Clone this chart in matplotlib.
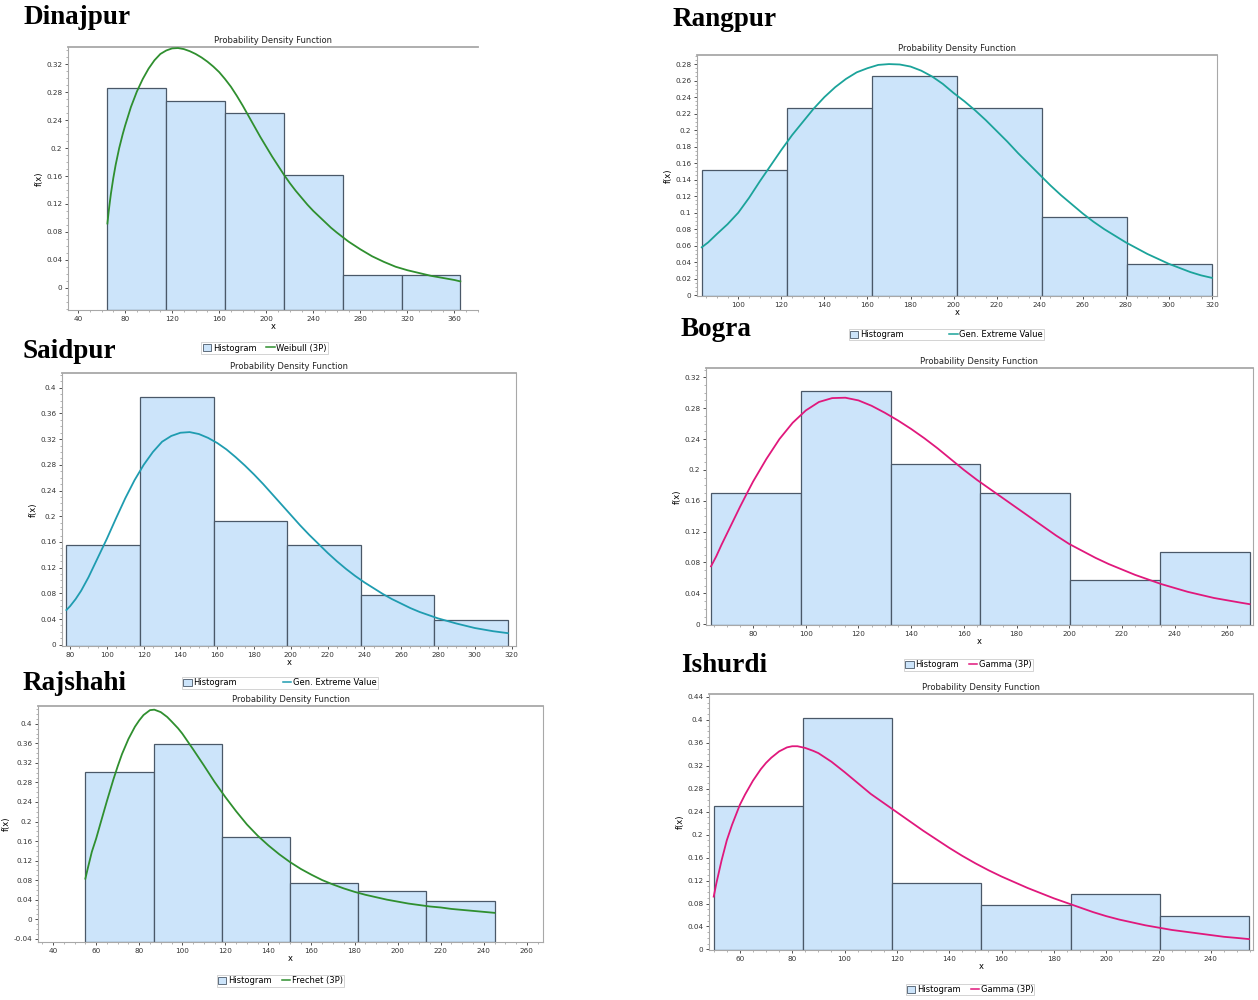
import numpy as np
import matplotlib.pyplot as plt
from matplotlib.ticker import MultipleLocator, AutoMinorLocator, FuncFormatter
from matplotlib.patches import Patch
from matplotlib.lines import Line2D

# ---- data ----
# Dinajpur (Weibull 3P)
din_edges = [65, 115, 165, 215, 265, 315, 365]
din_hist = [0.286, 0.2675, 0.250, 0.161, 0.0177, 0.0177]
din_cx = [65, 66, 67, 68, 70, 72, 75, 78, 80, 85, 90, 95, 100, 105, 110, 115, 120, 125, 130, 135,
          140, 145, 150, 155, 160, 165, 170, 175, 180, 185, 190, 195, 200, 205, 210, 215, 220,
          225, 230, 235, 240, 245, 250, 255, 260, 270, 280, 290, 300, 310, 320, 330, 340, 350,
          360, 365]
din_cy = [0.092, 0.108, 0.122, 0.135, 0.157, 0.176, 0.200, 0.220, 0.232, 0.259, 0.281, 0.299,
          0.314, 0.326, 0.335, 0.340, 0.343, 0.3435, 0.342, 0.339, 0.335, 0.330, 0.324, 0.317,
          0.309, 0.299, 0.288, 0.275, 0.261, 0.246, 0.231, 0.216, 0.202, 0.188, 0.175, 0.162,
          0.150, 0.139, 0.129, 0.119, 0.110, 0.102, 0.094, 0.086, 0.079, 0.066, 0.055, 0.045,
          0.037, 0.030, 0.025, 0.021, 0.017, 0.014, 0.011, 0.009]

# Rangpur (Gen. Extreme Value)
ran_edges = [83, 122.5, 162, 201.5, 241, 280.5, 320]
ran_hist = [0.152, 0.227, 0.265, 0.227, 0.0948, 0.0375]
ran_cx = [83, 86, 90, 95, 100, 105, 110, 115, 120, 125, 130, 135, 140, 145, 150, 155, 160, 165,
          170, 175, 180, 185, 190, 195, 200, 205, 210, 215, 220, 225, 230, 235, 240, 245, 250,
          255, 260, 265, 270, 275, 280, 285, 290, 295, 300, 305, 310, 315, 320]
ran_cy = [0.058, 0.064, 0.074, 0.086, 0.100, 0.118, 0.138, 0.157, 0.176, 0.194, 0.210, 0.226,
          0.240, 0.252, 0.262, 0.270, 0.275, 0.279, 0.280, 0.2795, 0.277, 0.272, 0.265, 0.256,
          0.245, 0.235, 0.224, 0.212, 0.199, 0.186, 0.172, 0.159, 0.146, 0.133, 0.121, 0.110,
          0.099, 0.089, 0.080, 0.072, 0.064, 0.057, 0.050, 0.044, 0.038, 0.033, 0.028, 0.024,
          0.021]

# Saidpur (Gen. Extreme Value)
sai_edges = [78, 118, 158, 198, 238, 278, 318]
sai_hist = [0.1547, 0.385, 0.193, 0.1547, 0.077, 0.039]
sai_cx = [78, 80, 83, 86, 90, 95, 100, 105, 110, 115, 120, 125, 130, 135, 140, 145, 150, 155,
          160, 165, 170, 175, 180, 185, 190, 195, 200, 205, 210, 215, 220, 225, 230, 235, 240,
          245, 250, 255, 260, 265, 270, 275, 280, 290, 300, 310, 318]
sai_cy = [0.054, 0.060, 0.071, 0.084, 0.105, 0.135, 0.165, 0.197, 0.228, 0.256, 0.280, 0.300,
          0.316, 0.325, 0.330, 0.331, 0.328, 0.322, 0.314, 0.304, 0.292, 0.279, 0.265, 0.250,
          0.234, 0.218, 0.202, 0.186, 0.171, 0.157, 0.143, 0.130, 0.118, 0.107, 0.097, 0.088,
          0.079, 0.071, 0.064, 0.057, 0.051, 0.046, 0.041, 0.033, 0.026, 0.021, 0.018]

# Bogra (Gamma 3P)
bog_edges = [64, 98.1, 132.2, 166.3, 200.4, 234.5, 268.6]
bog_hist = [0.170, 0.302, 0.207, 0.170, 0.0568, 0.094]
bog_cx = [64, 66, 68, 70, 72, 75, 78, 80, 85, 90, 95, 100, 105, 110, 115, 120, 125, 130, 135,
          140, 145, 150, 155, 160, 165, 170, 175, 180, 185, 190, 195, 200, 205, 210, 215, 220,
          225, 230, 235, 240, 245, 250, 255, 260, 265, 268.5]
bog_cy = [0.075, 0.088, 0.103, 0.117, 0.131, 0.152, 0.172, 0.185, 0.214, 0.240, 0.261, 0.277,
          0.288, 0.293, 0.2935, 0.290, 0.283, 0.274, 0.264, 0.253, 0.241, 0.228, 0.214, 0.200,
          0.187, 0.175, 0.163, 0.151, 0.139, 0.127, 0.115, 0.104, 0.095, 0.086, 0.078, 0.071,
          0.064, 0.058, 0.052, 0.047, 0.042, 0.038, 0.034, 0.031, 0.028, 0.026]

# Rajshahi (Frechet 3P)
raj_edges = [55, 86.67, 118.33, 150, 181.67, 213.33, 245]
raj_hist = [0.302, 0.359, 0.169, 0.0745, 0.0569, 0.0379]
raj_cx = [55, 56, 57, 58, 60, 62, 65, 68, 70, 72, 75, 78, 80, 82, 85, 87, 90, 93, 95, 98, 100,
          105, 110, 115, 120, 125, 130, 135, 140, 145, 150, 155, 160, 165, 170, 175, 180, 185,
          190, 195, 200, 205, 210, 215, 220, 225, 230, 235, 240, 245]
raj_cy = [0.083, 0.102, 0.120, 0.138, 0.165, 0.196, 0.242, 0.286, 0.313, 0.338, 0.369, 0.394,
          0.407, 0.418, 0.428, 0.429, 0.424, 0.414, 0.405, 0.391, 0.380, 0.348, 0.315, 0.281,
          0.250, 0.221, 0.194, 0.171, 0.151, 0.133, 0.117, 0.103, 0.091, 0.080, 0.071, 0.063,
          0.056, 0.050, 0.045, 0.040, 0.036, 0.032, 0.029, 0.026, 0.024, 0.021, 0.019, 0.017,
          0.015, 0.013]

# Ishurdi (Gamma 3P)
ish_edges = [50, 84.1, 118.2, 152.3, 186.4, 220.5, 254.6]
ish_hist = [0.250, 0.4035, 0.115, 0.077, 0.0967, 0.0576]
ish_cx = [50, 51, 52, 53, 55, 57, 60, 62, 65, 68, 70, 72, 75, 78, 80, 82, 85, 88, 90, 95, 100,
          105, 110, 115, 120, 125, 130, 135, 140, 145, 150, 155, 160, 165, 170, 175, 180, 185,
          190, 195, 200, 205, 210, 215, 220, 225, 230, 235, 240, 245, 250, 254.6]
ish_cy = [0.092, 0.115, 0.135, 0.155, 0.190, 0.217, 0.252, 0.270, 0.294, 0.314, 0.325, 0.334,
          0.345, 0.352, 0.354, 0.354, 0.351, 0.346, 0.342, 0.327, 0.309, 0.290, 0.271, 0.255,
          0.239, 0.223, 0.207, 0.192, 0.177, 0.163, 0.150, 0.138, 0.127, 0.117, 0.107, 0.098,
          0.089, 0.081, 0.073, 0.065, 0.058, 0.052, 0.047, 0.042, 0.038, 0.034, 0.031, 0.028,
          0.025, 0.022, 0.020, 0.018]

W, H = 1258, 1000
fig = plt.figure(figsize=(W / 100, H / 100), dpi=100)

BAR_FC = '#cce4fa'
BAR_EC = '#4a5868'
SPINE = '#a8a8a8'


def fmt(v, pos):
    s = '%.2f' % v
    s = s.rstrip('0').rstrip('.')
    if s == '-0':
        s = '0'
    return s


def panel(box, name, name_xy, edges, hist, cx, cy, color, dist, xlim, ylim, xstep, ystep,
          legend_y, colsp, right_spine=True):
    l, r, t, b = box
    ax = fig.add_axes([l / W, 1 - b / H, (r - l) / W, (b - t) / H])
    edges = np.array(edges)
    # bars run down to the bottom of the plot area, as in the original software
    ax.bar(edges[:-1], np.array(hist) - ylim[0], width=np.diff(edges), align='edge',
           bottom=ylim[0], color=BAR_FC, edgecolor=BAR_EC, linewidth=0.9, zorder=2)
    ax.plot(cx, cy, color=color, lw=1.3, zorder=4, solid_joinstyle='round')
    ax.set_xlim(*xlim)
    ax.set_ylim(*ylim)
    ax.xaxis.set_major_locator(MultipleLocator(xstep))
    ax.yaxis.set_major_locator(MultipleLocator(ystep))
    ax.yaxis.set_minor_locator(AutoMinorLocator(4))
    ax.xaxis.set_minor_locator(AutoMinorLocator(4))
    ax.yaxis.set_major_formatter(FuncFormatter(fmt))
    ax.tick_params(labelsize=5.2, colors='#333333', length=2.5, width=0.6, pad=1.5)
    ax.tick_params(which='minor', length=1.3, width=0.4, colors='#777777')
    for s in ax.spines.values():
        s.set_color(SPINE)
        s.set_linewidth(0.8)
    ax.spines['top'].set_linewidth(1.3)
    ax.spines['right'].set_visible(right_spine)
    ax.set_title('Probability Density Function', fontsize=6, pad=3, color='#222222')
    ax.set_xlabel('x', fontsize=6, labelpad=0.5)
    ax.set_ylabel('f(x)', fontsize=6, labelpad=2)
    handles = [Patch(facecolor=BAR_FC, edgecolor=BAR_EC, linewidth=0.6),
               Line2D([], [], color=color, lw=1.1)]
    leg = ax.legend(handles, ['Histogram', dist], loc='center', ncol=2,
                    bbox_to_anchor=(0.48, legend_y), fontsize=6, frameon=True, fancybox=False,
                    borderpad=0.15, handlelength=1.0, handleheight=0.9, handletextpad=0.2,
                    columnspacing=colsp, borderaxespad=0)
    leg.get_frame().set_edgecolor('#c0c0c0')
    leg.get_frame().set_linewidth(0.6)
    fig.text(name_xy[0] / W, 1 - name_xy[1] / H, name, fontsize=19.5, fontweight='bold',
             family='Liberation Serif', va='center', ha='left')
    return ax


panel((68, 478, 47, 310), 'Dinajpur', (23, 18), din_edges, din_hist, din_cx, din_cy,
      '#2f8f2f', 'Weibull (3P)', (31.5, 380), (-0.032, 0.345), 40, 0.04, -0.145, 1.2,
      right_spine=False)
panel((697, 1217, 55, 296), 'Rangpur', (673, 20), ran_edges, ran_hist, ran_cx, ran_cy,
      '#1ba39a', 'Gen. Extreme Value', (80.8, 322.4), (-0.001, 0.291), 20, 0.02, -0.16, 5.5)
panel((62, 516, 373, 646), 'Saidpur', (23, 351), sai_edges, sai_hist, sai_cx, sai_cy,
      '#1f9cb0', 'Gen. Extreme Value', (75.6, 322.4), (-0.002, 0.423), 20, 0.04, -0.135, 5.5)
panel((706, 1253, 368, 625), 'Bogra', (681, 329), bog_edges, bog_hist, bog_cx, bog_cy,
      '#e0187c', 'Gamma (3P)', (62.1, 269.8), (-0.001, 0.332), 20, 0.04, -0.155, 1.2)
panel((38, 543, 706, 942), 'Rajshahi', (23, 683), raj_edges, raj_hist, raj_cx, raj_cy,
      '#2f8f2f', 'Frechet (3P)', (33, 267.5), (-0.0467, 0.4365), 20, 0.04, -0.165, 1.2)
panel((709, 1253, 694, 950), 'Ishurdi', (681, 666), ish_edges, ish_hist, ish_cx, ish_cy,
      '#e0187c', 'Gamma (3P)', (48.2, 256.1), (-0.001, 0.445), 20, 0.04, -0.155, 1.2)

fig.savefig('out.png', dpi=100, facecolor='white')
